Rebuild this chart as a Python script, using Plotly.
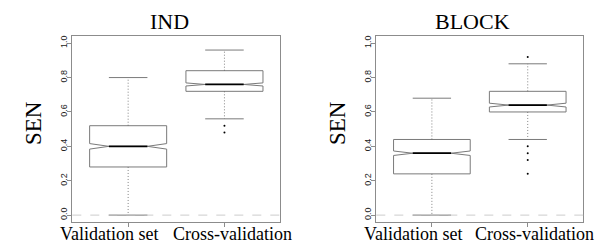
import plotly.graph_objects as go
from plotly.subplots import make_subplots

# ---- data ----
panels = ["IND", "BLOCK"]
categories = ["Validation set", "Cross-validation"]
positions = [1, 2]

ind_q1 = [0.28, 0.72]
ind_median = [0.40, 0.76]
ind_q3 = [0.52, 0.84]
ind_lower = [0.00, 0.56]
ind_upper = [0.80, 0.96]
ind_notch = [0.016, 0.009]
ind_out_val = []
ind_out_cv = [0.52, 0.48]

blk_q1 = [0.24, 0.60]
blk_median = [0.36, 0.64]
blk_q3 = [0.44, 0.72]
blk_lower = [0.00, 0.44]
blk_upper = [0.68, 0.88]
blk_notch = [0.013, 0.011]
blk_out_val = []
blk_out_cv = [0.92, 0.40, 0.36, 0.32, 0.24]

y_ticks = [0.0, 0.2, 0.4, 0.6, 0.8, 1.0]

stats = [
    dict(q1=ind_q1, med=ind_median, q3=ind_q3, lo=ind_lower, hi=ind_upper,
         notch=ind_notch, outs=[ind_out_val, ind_out_cv]),
    dict(q1=blk_q1, med=blk_median, q3=blk_q3, lo=blk_lower, hi=blk_upper,
         notch=blk_notch, outs=[blk_out_val, blk_out_cv]),
]

BOXW = 0.8
HALF = BOXW / 2
NOTCHW = 0.25
STAPLE = HALF * 0.5
BORDER = "#7a7a7a"
FRAME = "#8c8c8c"

fig = make_subplots(rows=1, cols=2)

for i, s in enumerate(stats):
    col = i + 1
    fig.add_trace(go.Box(
        x=positions, q1=s["q1"], median=s["med"], q3=s["q3"],
        lowerfence=s["q1"], upperfence=s["q3"], notchspan=s["notch"],
        notched=True, notchwidth=NOTCHW, width=BOXW, whiskerwidth=0,
        fillcolor="rgba(255,255,255,0)", line=dict(color=BORDER, width=1),
        boxpoints=False, showlegend=False, hoverinfo="skip"), row=1, col=col)
    for j, p in enumerate(positions):
        # whiskers (dotted)
        for a, b in ((s["q3"][j], s["hi"][j]), (s["q1"][j], s["lo"][j])):
            fig.add_trace(go.Scatter(x=[p, p], y=[a, b], mode="lines",
                                     line=dict(color="#666", width=0.8, dash="1px,2px"),
                                     showlegend=False, hoverinfo="skip"), row=1, col=col)
        # staples
        for v in (s["hi"][j], s["lo"][j]):
            fig.add_trace(go.Scatter(x=[p - STAPLE, p + STAPLE], y=[v, v], mode="lines",
                                     line=dict(color=BORDER, width=1),
                                     showlegend=False, hoverinfo="skip"), row=1, col=col)
        # median
        mw = HALF * (1 - 2 * NOTCHW)
        fig.add_trace(go.Scatter(x=[p - mw, p + mw], y=[s["med"][j], s["med"][j]], mode="lines",
                                 line=dict(color="black", width=1.8),
                                 showlegend=False, hoverinfo="skip"), row=1, col=col)
        # outliers
        if s["outs"][j]:
            fig.add_trace(go.Scatter(x=[p] * len(s["outs"][j]), y=s["outs"][j], mode="markers",
                                     marker=dict(color="black", size=2),
                                     showlegend=False, hoverinfo="skip"), row=1, col=col)

W, H = 603, 244
dom_x = [[64.3 / W, 272.3 / W], [368.3 / W, 575.3 / W]]
dom_y = [1 - 214 / H, 1 - 28.3 / H]

axis_common = dict(showgrid=False, zeroline=False, showline=True, mirror=True,
                   linecolor=FRAME, linewidth=1, ticks="outside", ticklen=4,
                   tickcolor=FRAME, automargin=False)

for i in range(2):
    n = "" if i == 0 else "2"
    fig.layout["xaxis" + n].update(domain=dom_x[i], range=[0.42, 2.58],
                                   tickvals=positions, showticklabels=False, **axis_common)
    fig.layout["yaxis" + n].update(domain=dom_y, range=[-0.04, 1.04], tickvals=y_ticks,
                                   ticktext=[f"{v:.1f}" for v in y_ticks], tickangle=-90,
                                   ticklabelstandoff=-3,
                                   tickfont=dict(family="Liberation Sans, Arial", size=9, color="#222"),
                                   **axis_common)
    fig.add_shape(type="line", xref=f"x{n} domain", yref=f"y{n}", x0=0, x1=1, y0=0, y1=0,
                  line=dict(color="#c0c0c0", width=0.8, dash="dash"))

serif = "Liberation Serif"
title_x = [161.7, 464]
ylab_x = [25, 329]
label_x = [[0.80, 2.08], [0.80, 2.07]]
for i in range(2):
    n = "" if i == 0 else "2"
    fig.add_annotation(text=panels[i], xref="paper", yref="paper", x=title_x[i] / W,
                       y=1 - 13 / H, xanchor="center", yanchor="middle", showarrow=False,
                       font=dict(family=serif, size=22, color="black"))
    fig.add_annotation(text="SEN", xref="paper", yref="paper", x=ylab_x[i] / W,
                       y=1 - 115 / H, xanchor="center", yanchor="middle", showarrow=False,
                       textangle=-90, font=dict(family=serif, size=23, color="black"))
    for k, c in enumerate(categories):
        fig.add_annotation(text=c, xref="x" + n, yref="paper", x=label_x[i][k],
                           y=1 - 226 / H, xanchor="center", yanchor="middle", showarrow=False,
                           font=dict(family=serif, size=18, color="black"))

fig.update_layout(width=W, height=H, margin=dict(l=0, r=0, t=0, b=0),
                  paper_bgcolor="white", plot_bgcolor="white", showlegend=False)

fig.write_html("out.html")
